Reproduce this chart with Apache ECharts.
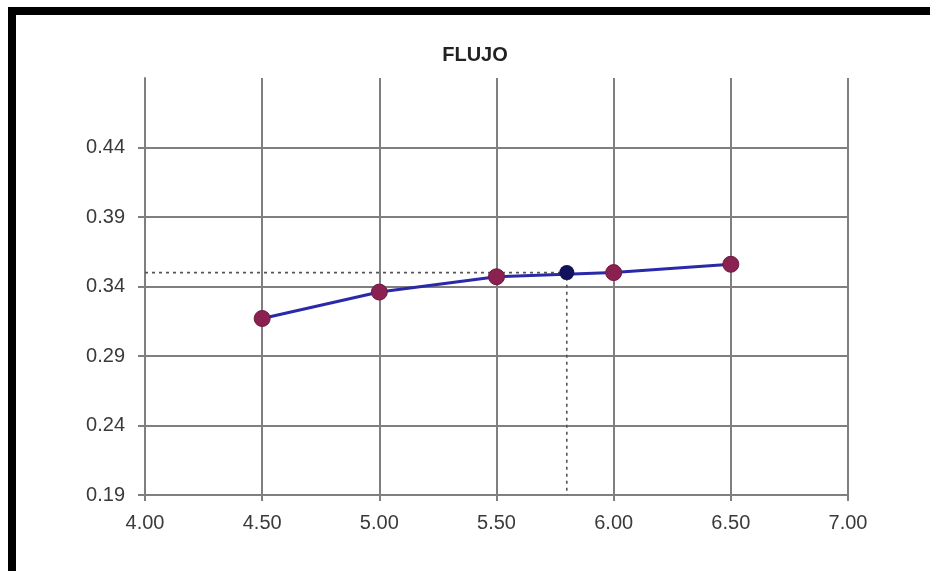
<!DOCTYPE html>
<html>
<head>
<meta charset="utf-8">
<script src="https://cdn.jsdelivr.net/npm/echarts@6/dist/echarts.min.js"></script>
<style>
html,body{margin:0;padding:0;background:#fff;}
#c{width:930px;height:571px;}
</style>
</head>
<body>
<div id="c"></div>
<script>
const titleText = 'FLUJO';
const flowX = [4.5, 5.0, 5.5, 6.0, 6.5];
const flowY = [0.317, 0.336, 0.347, 0.350, 0.356];
const targetX = [5.8];
const targetY = [0.350];
const yTicks = [0.19, 0.24, 0.29, 0.34, 0.39, 0.44];
const xMin = 4.0, xMax = 7.0, xStep = 0.5;
const yMin = 0.19, yMax = 0.49;

const chart = echarts.init(document.getElementById('c'), null, {renderer: 'canvas'});
const gridCol = '#7f7f7f';
const labelFont = {color: '#3a3a3a', fontSize: 20, fontFamily: 'Liberation Sans, Arial, sans-serif'};

chart.setOption({
  animation: false,
  backgroundColor: '#fff',
  title: {
    text: titleText,
    left: 470, top: 40, textAlign: 'center',
    textStyle: {fontSize: 20, fontWeight: 'bold', color: '#222', fontFamily: 'Liberation Sans, Arial, sans-serif'}
  },
  graphic: [
    {type: 'rect', shape: {x: 8, y: 7, width: 930, height: 8}, style: {fill: '#000'}, z: 100},
    {type: 'rect', shape: {x: 8, y: 7, width: 8, height: 571}, style: {fill: '#000'}, z: 100}
  ],
  grid: {left: 145, right: 82, top: 78, bottom: 76, containLabel: false},
  xAxis: {
    type: 'value', min: xMin, max: xMax, interval: xStep,
    axisLine: {show: true, lineStyle: {color: gridCol, width: 2}},
    axisTick: {show: true, length: 6, lineStyle: {color: gridCol, width: 2}},
    axisLabel: Object.assign({margin: 18, formatter: v => v.toFixed(2)}, labelFont),
    splitLine: {show: true, lineStyle: {color: gridCol, width: 2}}
  },
  yAxis: {
    type: 'value', min: yMin, max: yMax,
    axisLine: {show: true, lineStyle: {color: gridCol, width: 2}},
    axisTick: {show: true, length: 7, customValues: yTicks, lineStyle: {color: gridCol, width: 2}},
    axisLabel: Object.assign({margin: 20, customValues: yTicks, formatter: v => v.toFixed(2)}, labelFont),
    splitLine: {show: true, lineStyle: {color: gridCol, width: 2}}
  },
  series: [
    {
      type: 'line', z: 2,
      data: [[xMin, targetY[0]], [targetX[0], targetY[0]], [targetX[0], yMin]],
      symbol: 'none',
      lineStyle: {color: '#555', width: 1.6, type: [3, 4]},
      silent: true
    },
    {
      type: 'line', z: 3,
      data: flowX.map((x, i) => [x, flowY[i]]),
      symbol: 'circle', symbolSize: 16,
      lineStyle: {color: '#2a2aa8', width: 3},
      itemStyle: {color: '#8a2150', borderColor: '#6e1a40', borderWidth: 1}
    },
    {
      type: 'scatter', z: 4,
      data: targetX.map((x, i) => [x, targetY[i]]),
      symbol: 'circle', symbolSize: 15,
      itemStyle: {color: '#12125a', opacity: 1}
    }
  ]
});
</script>
</body>
</html>
